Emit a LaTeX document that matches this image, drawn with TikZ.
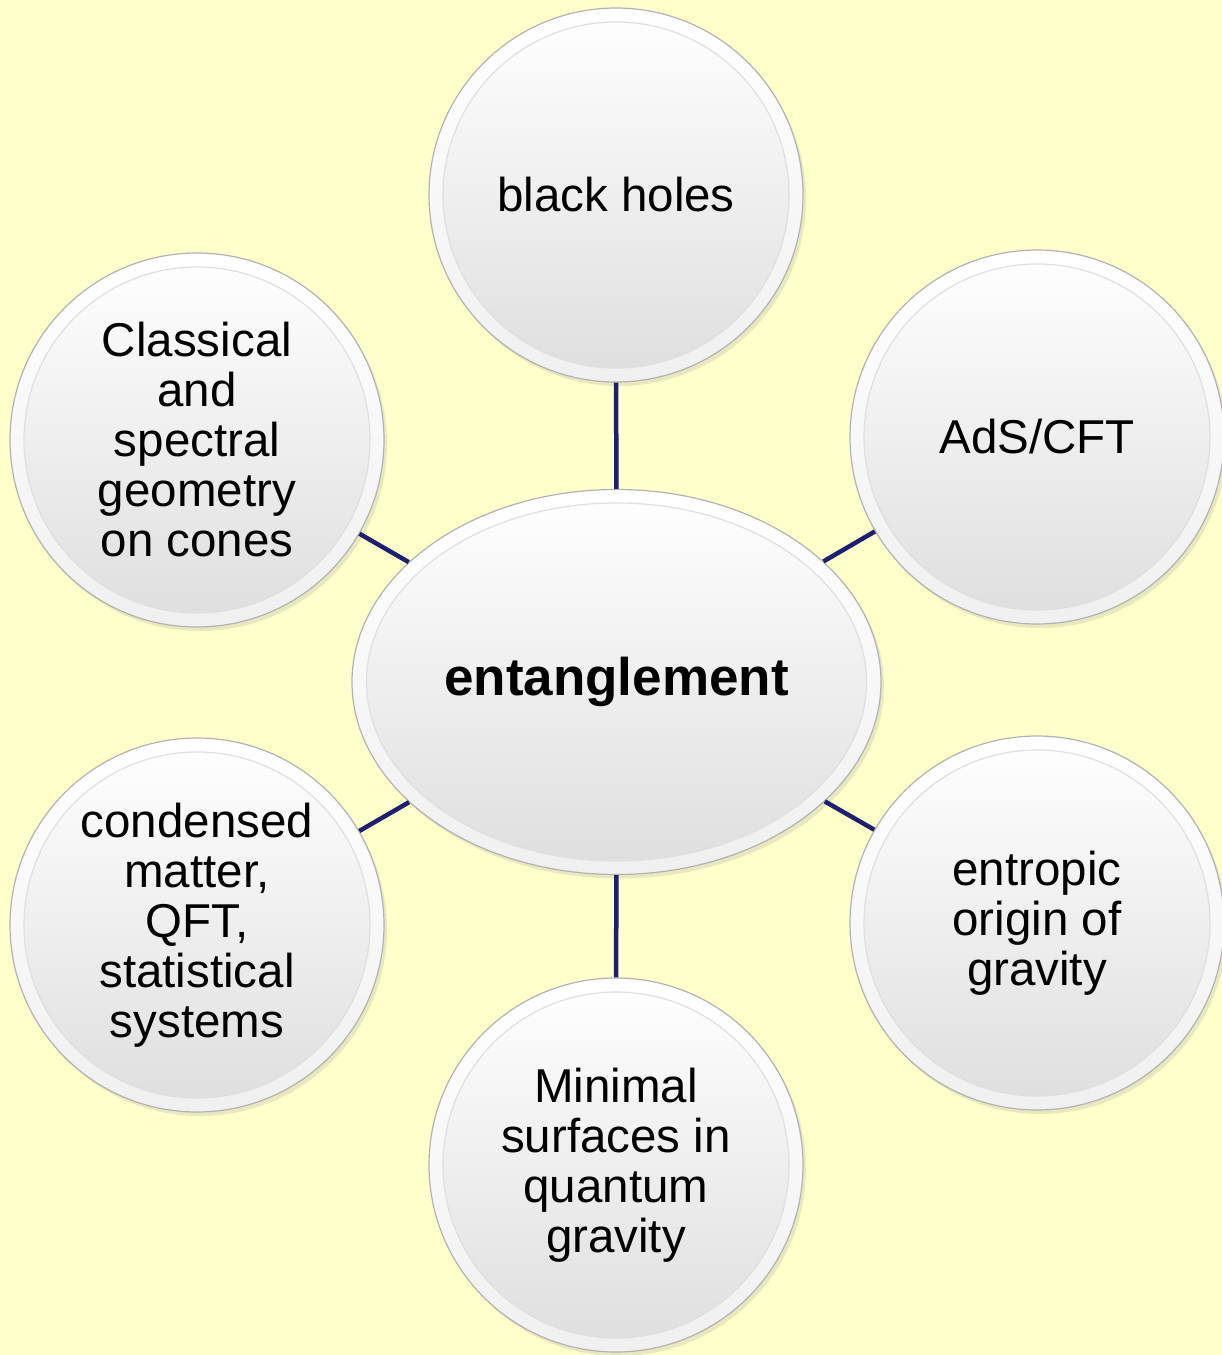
\documentclass[tikz,border=0pt]{standalone}
\usepackage{fontspec}
\setmainfont{Liberation Sans}
\usetikzlibrary{shapes.geometric,shadows}
\definecolor{bgyellow}{HTML}{FFFFCC}
\definecolor{navyline}{HTML}{1F1F70}
\tikzset{
  bubble/.style={circle, minimum size=374pt, inner sep=0pt, draw=gray!60, line width=1.2pt,
    top color=white, bottom color=gray!12, align=center,
    font=\fontsize{47.5}{50}\selectfont,
    drop shadow={opacity=0.18, shadow xshift=3pt, shadow yshift=-4pt},
    path picture={\shade[top color=white, bottom color=gray!26, draw=gray!25]
      (path picture bounding box.center) circle (173pt);}},
  hub/.style={ellipse, minimum width=529pt, minimum height=385pt, inner sep=0pt, draw=gray!60, line width=1.2pt,
    top color=white, bottom color=gray!12, align=center,
    font=\fontsize{53}{56}\selectfont\bfseries,
    drop shadow={opacity=0.18, shadow xshift=3pt, shadow yshift=-4pt},
    path picture={\shade[top color=white, bottom color=gray!26, draw=gray!25]
      (path picture bounding box.center) ellipse (250pt and 179pt);}},
  conn/.style={draw=navyline, line width=4.5pt}
}
\begin{document}
\begin{tikzpicture}[x=1pt,y=-1pt]
\useasboundingbox (0,0) rectangle (1222,1355);
\clip (0,0) rectangle (1222,1355);
\fill[bgyellow] (0,0) rectangle (1222,1355);

\node[hub] (c) at (616.5,682) {entanglement};
\node[bubble] (bh) at (616,195) {black holes};
\node[bubble] (ads) at (1037,437) {AdS/CFT};
\node[bubble] (cl) at (197,440) {Classical\\and\\spectral\\geometry\\on cones};
\node[bubble] (cm) at (197,925) {condensed\\matter,\\QFT,\\statistical\\systems};
\node[bubble] (ent) at (1037,923) {entropic\\origin of\\gravity};
\node[bubble] (ms) at (616,1165) {Minimal\\surfaces in\\quantum\\gravity};

\draw[conn] (c) -- (bh);
\draw[conn] (c) -- (ads);
\draw[conn] (c) -- (cl);
\draw[conn] (c) -- (cm);
\draw[conn] (c) -- (ent);
\draw[conn] (c) -- (ms);
\end{tikzpicture}
\end{document}
